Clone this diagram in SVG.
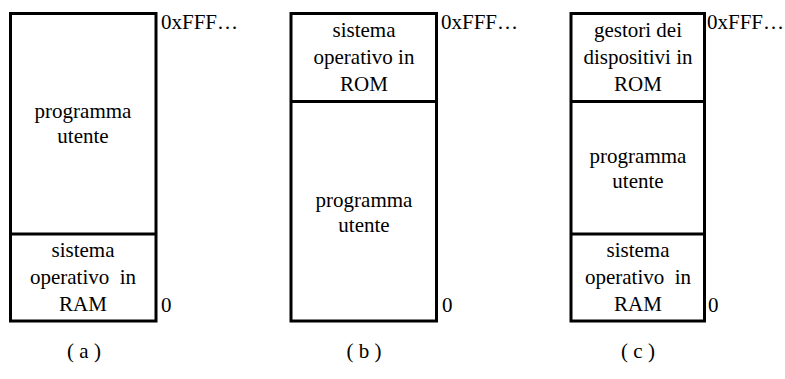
<svg xmlns="http://www.w3.org/2000/svg" width="785" height="379" viewBox="0 0 785 379">
  <style>
    .box { fill: #fff; stroke: #000; stroke-width: 3; }
    .div { stroke: #000; stroke-width: 3; fill: none; }
    .t { font-family: 'Liberation Serif', 'DejaVu Serif', 'Times New Roman', serif; font-size: 21px; fill: #000; }
    .c { text-anchor: middle; }
  </style>
  <rect width="785" height="379" fill="#fff"/>

  <!-- (a) OS in RAM at the bottom -->
  <g id="layout-a" class="t" font-family="Liberation Serif, serif">
    <rect class="box" x="10.5" y="13.5" width="145.5" height="307.5"/>
    <line class="div" x1="10.5" y1="234" x2="156" y2="234"/>
    <text class="c" x="83" y="118">programma</text>
    <text class="c" x="83" y="143">utente</text>
    <text class="c" x="83" y="257">sistema</text>
    <text class="c" x="83" y="284" xml:space="preserve">operativo  in</text>
    <text class="c" x="83" y="311">RAM</text>
    <text x="161" y="29">0xFFF…</text>
    <text x="161" y="312">0</text>
    <text class="c" x="84" y="358" xml:space="preserve">( a )</text>
  </g>

  <!-- (b) OS in ROM at the top -->
  <g id="layout-b" class="t" font-family="Liberation Serif, serif">
    <rect class="box" x="291" y="13.5" width="145.5" height="307.5"/>
    <line class="div" x1="291" y1="101.5" x2="436.5" y2="101.5"/>
    <text class="c" x="364" y="37">sistema</text>
    <text class="c" x="364" y="64">operativo in</text>
    <text class="c" x="364" y="91">ROM</text>
    <text class="c" x="364" y="207">programma</text>
    <text class="c" x="364" y="232">utente</text>
    <text x="441" y="29">0xFFF…</text>
    <text x="442" y="312">0</text>
    <text class="c" x="364" y="358" xml:space="preserve">( b )</text>
  </g>

  <!-- (c) device drivers in ROM, OS in RAM -->
  <g id="layout-c" class="t" font-family="Liberation Serif, serif">
    <rect class="box" x="571" y="13.5" width="133.5" height="307.5"/>
    <line class="div" x1="571" y1="101.5" x2="704.5" y2="101.5"/>
    <line class="div" x1="571" y1="234" x2="704.5" y2="234"/>
    <text class="c" x="638" y="37">gestori dei</text>
    <text class="c" x="638" y="64">dispositivi in</text>
    <text class="c" x="638" y="91">ROM</text>
    <text class="c" x="638" y="163">programma</text>
    <text class="c" x="638" y="188">utente</text>
    <text class="c" x="638" y="257">sistema</text>
    <text class="c" x="638" y="284" xml:space="preserve">operativo  in</text>
    <text class="c" x="638" y="311">RAM</text>
    <text x="707" y="29">0xFFF…</text>
    <text x="708" y="312">0</text>
    <text class="c" x="638" y="358" xml:space="preserve">( c )</text>
  </g>

  <g id="connectors"/>
</svg>
